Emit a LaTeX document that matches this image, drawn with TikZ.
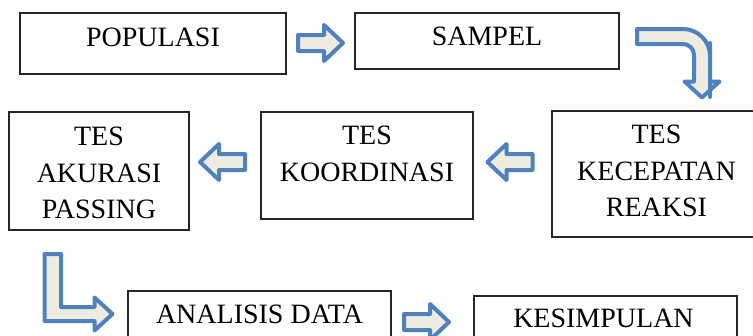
\documentclass[tikz,border=0pt]{standalone}
\usepackage{fontspec}
\setmainfont{Liberation Serif}
\usetikzlibrary{calc}
\definecolor{arrowblue}{HTML}{4F81BD}
\definecolor{arrowfill}{HTML}{EEECE1}
\begin{document}
\begin{tikzpicture}[x=1pt,y=-1pt,
  box/.style={draw=black!85, line width=1.6pt, rectangle, inner sep=0pt},
  lbl/.style={anchor=north, inner sep=0pt, align=center, font=\fontsize{28}{36.5}\selectfont},
  blockarrow/.style={draw=arrowblue, fill=arrowfill, line width=4pt, line join=round},
  pics/rarrow/.style={code={\path[blockarrow] (-23,-8) -- (3,-8) -- (3,-18) -- (22,0) -- (3,18) -- (3,8) -- (-23,8) -- cycle;}}]
\useasboundingbox (0,0) rectangle (753,335);
\clip (0,0) rectangle (753,335);

% boxes
\node[box, minimum width=266pt, minimum height=61pt] (pop) at (153,43.5) {};
\node[lbl] (popt) at ([yshift=-16pt]pop.north) {POPULASI};

\node[box, minimum width=264pt, minimum height=56pt] (sam) at (487,41) {};
\node[lbl] (samt) at ([yshift=-15pt]sam.north) {SAMPEL};

\node[box, minimum width=210pt, minimum height=126pt] (kec) at (657,174) {};
\node[lbl] (kect) at ([yshift=-15pt,xshift=-0.5pt]kec.north) {TES\\KECEPATAN\\REAKSI};

\node[box, minimum width=212pt, minimum height=107pt] (koord) at (367,165.5) {};
\node[lbl] (koordt) at ([yshift=-15pt]koord.north) {TES\\KOORDINASI};

\node[box, minimum width=180pt, minimum height=118pt] (akur) at (99,171) {};
\node[lbl] (akurt) at ([yshift=-16pt]akur.north) {TES\\AKURASI\\PASSING};

\node[box, minimum width=263pt, minimum height=59pt] (ana) at (259.5,320.5) {};
\node[lbl] (anat) at ([yshift=-14.5pt]ana.north) {ANALISIS DATA};

\node[box, minimum width=263pt, minimum height=54pt] (kes) at (605.5,323) {};
\node[lbl] (kest) at ([yshift=-14pt,xshift=-2pt]kes.north) {KESIMPULAN};

% straight block arrows
\pic at (321,43) {rarrow};
\pic[rotate=180] at (222,162) {rarrow};
\pic[rotate=180] at (509.5,162) {rarrow};
\pic at (427,322) {rarrow};

% curved arrow SAMPEL -> TES KECEPATAN REAKSI
\path[blockarrow] (637,29) -- (670,29) [rounded corners=27pt] -- (710,29) -- (710,70) [sharp corners]
  -- (710,81.5) -- (719.5,81.5) -- (702,97.5) -- (684.5,81.5) -- (694,81.5) -- (694,70)
  [rounded corners=11pt] -- (694,44) -- (670,44) [sharp corners] -- (637,44) -- cycle;

% L arrow TES AKURASI PASSING -> ANALISIS DATA
\path[blockarrow] (44.5,254) -- (61,254) -- (61,307) -- (94.5,307) -- (94.5,297.5)
  -- (112.5,314) -- (94.5,330.5) -- (94.5,321) -- (44.5,321) -- cycle;
\end{tikzpicture}
\end{document}
